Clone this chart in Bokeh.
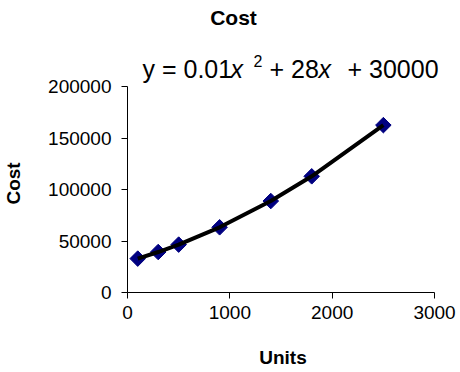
import math
from bokeh.plotting import figure
from bokeh.models import Range1d, FixedTicker, BasicTickFormatter, Label
from bokeh.embed import file_html
from bokeh.resources import INLINE

# ---- data ----
units = [100, 300, 500, 900, 1400, 1800, 2500]
cost = [32900, 39300, 46500, 63300, 88800, 112800, 162500]
x_ticks = [0, 1000, 2000, 3000]
y_ticks = [0, 50000, 100000, 150000, 200000]
title_text = "Cost"
x_label = "Units"
y_label = "Cost"
# trendline equation pieces: (text, italic?, superscript?)
eq_parts = [("y = 0.01", False, False), ("x", True, False), ("2", False, True),
            ("+ 28", False, False), ("x", True, False), ("+ 30000", False, False)]

FONT = "Liberation Sans"
K = 0.41  # label baseline compensation (fraction of font size)

# frame: x 0..3000 spans 310px, y 0..200000 spans 206px; the frame is
# extended upward/rightward (axes bounded) so title and equation fit in it
X_END = 3000 * 314 / 310
Y_END = 200000 * 292 / 206

p = figure(width=460, height=372, output_backend="svg", toolbar_location=None,
           x_range=Range1d(0, X_END), y_range=Range1d(0, Y_END),
           min_border_left=124, min_border_right=22,
           min_border_top=0, min_border_bottom=80)
p.outline_line_color = None
p.grid.visible = False
p.background_fill_color = "white"
p.border_fill_color = "white"

for ax in (p.xaxis[0], p.yaxis[0]):
    ax.major_label_text_font = FONT
    ax.major_label_text_font_size = "19px"
    ax.major_label_text_color = "black"
    ax.axis_label_text_font = FONT
    ax.axis_label_text_font_size = "19px"
    ax.axis_label_text_font_style = "bold"
    ax.axis_label_text_color = "black"
    ax.axis_line_color = "black"
    ax.major_tick_line_color = "black"
    ax.minor_tick_line_color = None
    ax.major_tick_in = 0
    ax.major_tick_out = 6
    ax.formatter = BasicTickFormatter(use_scientific=False)

p.xaxis.ticker = FixedTicker(ticks=x_ticks)
p.yaxis.ticker = FixedTicker(ticks=y_ticks)
p.xaxis.bounds = (x_ticks[0], x_ticks[-1])
p.yaxis.bounds = (y_ticks[0], y_ticks[-1])
p.xaxis.axis_label = x_label
# trailing no-break spaces keep the visible label centred on the bounded axis
p.yaxis.axis_label = y_label + "\u00a0" * 14
p.xaxis.major_label_standoff = 7
p.yaxis.major_label_standoff = 10
p.xaxis.axis_label_standoff = 25
p.yaxis.axis_label_standoff = 21

p.scatter(units, cost, marker="square", angle=math.pi / 4, size=11,
          fill_color="#000080", line_color="#000080")
p.line(units, cost, line_color="black", line_width=4)

# title (frame-relative screen coordinates)
p.add_layout(Label(x=106, y=266 + K * 21, x_units="screen", y_units="screen",
                   text=title_text, text_font=FONT, text_font_size="21px",
                   text_font_style="bold", text_align="center",
                   text_baseline="alphabetic", text_color="black"))

# equation
eq_x = [15, 103, 126, 142, 191, 220]
for (txt, ital, sup), xx in zip(eq_parts, eq_x):
    fs = 16 if sup else 25
    base = 225 if sup else 213
    p.add_layout(Label(x=xx, y=base + K * fs, x_units="screen", y_units="screen",
                       text=txt, text_font=FONT, text_font_size=f"{fs}px",
                       text_font_style="italic" if ital else "normal",
                       text_align="left", text_baseline="alphabetic",
                       text_color="black"))

open("out.html", "w").write(file_html(p, INLINE))
